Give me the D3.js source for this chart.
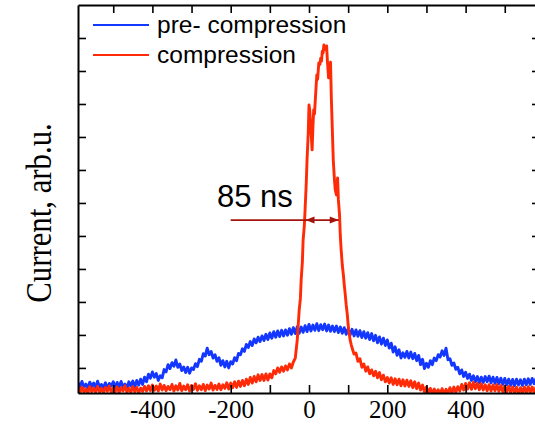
<!DOCTYPE html>
<html>
<head>
<meta charset="utf-8">
<script src="https://cdn.jsdelivr.net/npm/d3@7"></script>
<style>
  html, body { margin: 0; padding: 0; background: #fff; }
  svg { display: block; }
</style>
</head>
<body>
<svg id="chart" width="535" height="426"></svg>
<script>
// Oscilloscope sampling of the pre-compression pulse: start time and step (ns)
const preStart = -590;
const preStep = 5;
// Current (arb. units), one sample per step
const preCurrent = [
  .56,.41,.59,.43,.51,.38,.57,.44,.54,.39,
  .60,.42,.50,.40,.55,.37,.53,.45,.58,.41,
  .56,.42,.59,.43,.51,.38,.58,.45,.60,.42,
  .62,.48,.66,.50,.72,.58,.81,.69,.88,.72,
  .83,.62,.76,.70,.95,.88,1.10,.98,1.16,1.05,
  1.24,1.02,1.12,.92,1.03,.86,1.02,.84,1.00,.95,
  1.13,1.04,1.26,1.20,1.43,1.36,1.60,1.40,1.50,1.30,
  1.40,1.20,1.31,1.08,1.22,1.03,1.20,1.00,1.19,1.12,
  1.31,1.22,1.44,1.40,1.58,1.50,1.71,1.62,1.80,1.68,
  1.88,1.76,1.93,1.80,1.97,1.83,2.02,1.86,2.06,1.90,
  2.10,1.93,2.12,1.95,2.14,1.97,2.15,1.99,2.19,2.02,
  2.22,2.04,2.25,2.05,2.24,2.08,2.28,2.10,2.32,2.12,
  2.30,2.14,2.34,2.13,2.31,2.16,2.33,2.12,2.30,2.11,
  2.27,2.10,2.27,2.07,2.24,2.05,2.22,2.02,2.19,2.00,
  2.17,1.97,2.15,1.96,2.13,1.92,2.10,1.90,2.07,1.86,
  2.04,1.82,1.99,1.76,1.94,1.72,1.90,1.68,1.85,1.60,
  1.75,1.48,1.64,1.38,1.55,1.30,1.46,1.32,1.50,1.30,
  1.48,1.28,1.44,1.22,1.38,1.10,1.26,.98,1.14,1.02,
  1.22,1.10,1.30,1.22,1.40,1.33,1.52,1.38,1.60,1.25,
  1.28,1.08,1.15,.96,1.02,.82,.94,.74,.87,.68,
  .81,.62,.76,.58,.74,.55,.72,.56,.74,.58,
  .75,.55,.72,.53,.71,.52,.69,.50,.68,.49,
  .66,.47,.65,.46,.66,.48,.64,.47,.66,.49,
  .67,.50,.68,.52,.69
];
const preTime = preCurrent.map((_, i) => preStart + i * preStep);

// Compressed pulse: sample times (ns), denser across the peak
const compTime = [
  -590,-585,-580,-575,-570,-565,-560,-555,-550,-545,
  -540,-535,-530,-525,-520,-515,-510,-505,-500,-495,
  -490,-485,-480,-475,-470,-465,-460,-455,-450,-445,
  -440,-435,-430,-425,-420,-415,-410,-405,-400,-395,
  -390,-385,-380,-375,-370,-365,-360,-355,-350,-345,
  -340,-335,-330,-325,-320,-315,-310,-305,-300,-295,
  -290,-285,-280,-275,-270,-265,-260,-255,-250,-245,
  -240,-235,-230,-225,-220,-215,-210,-205,-200,-195,
  -190,-185,-180,-175,-170,-165,-160,-155,-150,-145,
  -140,-135,-130,-125,-120,-115,-110,-105,-100,-95,
  -90,-85,-80,-75,-70,-65,-60,-55,-50,-45,
  -40,
  -35,-30,-27,-25,-22,-20,-17,-15,-12,-10,
  -7,-5,-2,0,2,4,6,8,10,12,
  14,16,18,20,22,25,28,30,32,34,
  36,38,40,42,45,47,50,52,55,57,
  60,62,65,67,70,73,75,78,80,82,
  85,88,90,92,95,98,100,102,105,108,
  110,
  115,120,125,130,135,140,145,150,155,160,
  165,170,175,180,185,190,195,200,205,210,
  215,220,225,230,235,240,245,250,255,260,
  265,270,275,280,285,290,295,300,305,310,
  315,320,325,330,335,340,345,350,355,360,
  365,370,375,380,385,390,395,400,405,410,
  415,420,425,430,435,440,445,450,455,460,
  465,470,475,480,485,490,495,500,505,510,
  515,520,525,530,535,540,545,550,555,560,
  565,570,575,580
];
// Current (arb. units) at each sample time
const compCurrent = [
  .40,.25,.42,.27,.37,.24,.43,.28,.39,.26,
  .44,.27,.38,.25,.41,.29,.45,.26,.39,.28,
  .42,.25,.40,.30,.46,.27,.38,.26,.43,.28,
  .41,.25,.39,.29,.44,.30,.46,.31,.48,.32,
  .45,.30,.51,.33,.47,.31,.44,.34,.50,.30,
  .46,.33,.53,.31,.45,.34,.49,.30,.47,.35,
  .52,.32,.46,.34,.50,.31,.48,.36,.54,.33,
  .47,.35,.51,.34,.49,.38,.55,.36,.54,.40,
  .58,.41,.60,.44,.62,.46,.66,.50,.71,.54,
  .74,.58,.79,.62,.80,.62,.82,.63,.82,.70,
  .92,.82,1.00,.87,1.03,.90,1.06,.94,1.12,1.00,
  1.18,
  1.30,1.85,2.40,2.76,3.10,3.67,4.20,4.88,5.30,5.79,
  6.60,7.30,8.10,8.97,8.80,8.40,8.00,7.61,8.30,8.82,
  8.70,9.10,9.50,9.88,9.75,10.24,10.20,10.39,10.30,10.60,
  10.55,10.79,10.65,10.68,10.76,10.30,9.79,9.90,10.27,9.20,
  8.06,7.30,6.70,6.40,6.24,6.76,6.10,5.64,5.00,4.60,
  4.12,3.80,3.52,3.30,2.91,2.60,2.30,2.10,1.85,1.70,
  1.61,
  1.42,1.45,1.20,1.28,1.02,1.12,.90,1.03,.82,.94,
  .76,.90,.70,.86,.64,.78,.58,.71,.54,.70,
  .50,.67,.49,.66,.46,.64,.45,.63,.44,.61,
  .40,.58,.37,.54,.33,.48,.27,.42,.24,.38,
  .22,.36,.21,.34,.20,.37,.22,.35,.23,.40,
  .24,.42,.26,.43,.30,.50,.33,.53,.36,.55,
  .35,.56,.37,.53,.34,.52,.33,.49,.31,.49,
  .30,.48,.31,.49,.29,.46,.28,.45,.27,.44,
  .26,.42,.25,.41,.23,.40,.24,.42,.25,.43,
  .26,.42,.25,.43
];

// Axis ticks
const xTicks = [-500,-400,-300,-200,-100,0,100,200,300,400,500];
const xLabels = [-400,-200,0,200,400];
const yTicks = [1,2,3,4,5,6,7,8,9,10,11];

// Pulse width annotation (ns) and level
const fwhmStart = -9;
const fwhmWidth = 85;
const fwhmLevel = 5.48;
const leaderStart = -200;

const seriesNames = ["pre- compression", "compression"];
const seriesColors = ["#1437ff", "#ff2a06"];

const serif = "'Liberation Serif', 'Times New Roman', serif";
const sans = "'Liberation Sans', Arial, sans-serif";

const svg = d3.select("#chart");
const plotLeft = 78, plotRight = 540, plotTop = 5, plotBottom = 393;

const x = d3.scaleLinear().domain([-590, 590]).range([plotLeft, plotRight]);
const y = d3.scaleLinear().domain([0.24, 12]).range([plotBottom, plotTop]);

svg.append("defs").append("clipPath").attr("id", "plotClip")
  .append("rect").attr("x", plotLeft).attr("y", plotTop)
  .attr("width", plotRight - plotLeft).attr("height", plotBottom - plotTop);

const line = d3.line().x(d => x(d[0])).y(d => y(d[1]));

const series = [
  d3.zip(preTime, preCurrent),
  d3.zip(compTime, compCurrent)
];

const plot = svg.append("g").attr("clip-path", "url(#plotClip)");
series.forEach((s, i) => {
  plot.append("path")
    .datum(s)
    .attr("fill", "none")
    .attr("stroke", seriesColors[i])
    .attr("stroke-width", 2.9)
    .attr("stroke-linejoin", "round")
    .attr("d", line);
});

// Frame axes with inward ticks
const axisStyle = g => {
  g.selectAll(".domain").attr("stroke", "#000").attr("stroke-width", 2);
  g.selectAll(".tick line").attr("stroke", "#000").attr("stroke-width", 1.6);
};

svg.append("g").attr("transform", `translate(0,${plotBottom})`)
  .call(d3.axisBottom(x).tickValues(xTicks).tickSize(-8).tickSizeOuter(0).tickPadding(7)
    .tickFormat(d => xLabels.includes(d) ? String(d) : ""))
  .attr("font-family", serif)
  .attr("font-size", 25)
  .call(axisStyle)
  .call(g => g.selectAll("text").attr("fill", "#000"));

svg.append("g").attr("transform", `translate(0,${plotTop})`)
  .call(d3.axisTop(x).tickValues(xTicks).tickSize(-8).tickSizeOuter(0).tickFormat(""))
  .call(axisStyle);

svg.append("g").attr("transform", `translate(${plotLeft},0)`)
  .call(d3.axisLeft(y).tickValues(yTicks).tickSize(-8).tickSizeOuter(0).tickFormat(""))
  .call(axisStyle);

svg.append("g").attr("transform", `translate(${plotRight},0)`)
  .call(d3.axisRight(y).tickValues(yTicks).tickSize(-8).tickSizeOuter(0).tickFormat(""))
  .call(axisStyle);

// Y axis title
svg.append("text")
  .attr("transform", "translate(51,213) rotate(-90) scale(0.88,1)")
  .attr("text-anchor", "middle")
  .attr("font-family", serif)
  .attr("font-size", 35)
  .attr("fill", "#000")
  .text("Current, arb.u.");

// Legend
const legend = svg.append("g");
seriesNames.forEach((name, i) => {
  const ly = 25 + i * 30;
  legend.append("line")
    .attr("x1", 93).attr("x2", 149).attr("y1", ly).attr("y2", ly)
    .attr("stroke", seriesColors[i]).attr("stroke-width", 2);
  legend.append("text")
    .attr("x", 157).attr("y", ly + 8)
    .attr("font-family", sans)
    .attr("font-size", 24.5)
    .attr("fill", "#000")
    .text(name);
});

// Pulse width arrow
const arrowColor = "#a5140c";
const ay = y(fwhmLevel);
const xa = x(fwhmStart), xb = x(fwhmStart + fwhmWidth);
const ann = svg.append("g");
ann.append("line")
  .attr("x1", x(leaderStart)).attr("x2", xb).attr("y1", ay).attr("y2", ay)
  .attr("stroke", arrowColor).attr("stroke-width", 1.6);
ann.append("path")
  .attr("d", `M${xa},${ay} l9,-3.5 l0,7 Z`)
  .attr("fill", arrowColor);
ann.append("path")
  .attr("d", `M${xb},${ay} l-9,-3.5 l0,7 Z`)
  .attr("fill", arrowColor);
ann.append("text")
  .attr("x", 217).attr("y", 207)
  .attr("font-family", sans)
  .attr("font-size", 31)
  .attr("fill", "#000")
  .text(fwhmWidth + " ns");
</script>
</body>
</html>
